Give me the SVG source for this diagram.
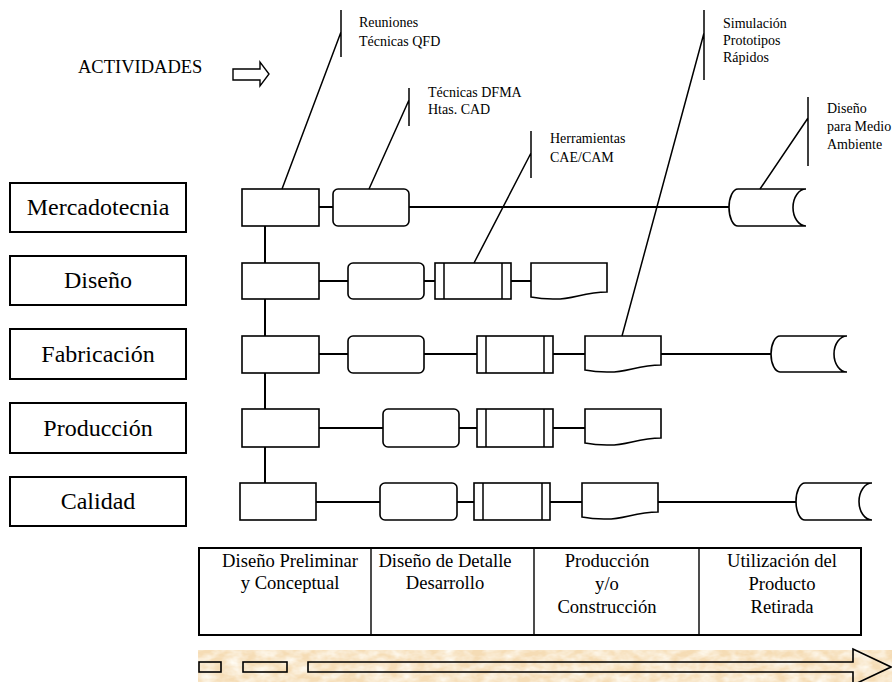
<svg xmlns="http://www.w3.org/2000/svg" width="892" height="682" viewBox="0 0 892 682" font-family="'Liberation Serif', 'Times New Roman', Times, 'DejaVu Serif', serif">
  <style>
    text { fill: #000; }
    .dept { font-size: 24px; text-anchor: middle; }
    .note { font-size: 14px; }
    .phase { font-size: 18.6px; text-anchor: middle; }
    .box { fill: #fff; stroke: #000; stroke-width: 1.6; }
    .dbox { fill: #fff; stroke: #000; stroke-width: 2; }
    .link { stroke: #000; stroke-width: 2; fill: none; }
    .call { stroke: #000; stroke-width: 1.5; fill: none; }
    .bar { stroke: #000; stroke-width: 1.5; }
  </style>
  <defs>
    <filter id="grain" x="0" y="0" width="100%" height="100%">
      <feTurbulence type="fractalNoise" baseFrequency="0.07 0.12" numOctaves="3" seed="4"/>
      <feColorMatrix type="matrix" values="0 0 0 0 1  0 0 0 0 0.97  0 0 0 0 0.9  1.6 0 0 0 -0.45"/>
    </filter>
  </defs>

  <rect width="892" height="682" fill="#fff"/>

  <!-- header -->
  <g id="actividades">
    <text x="78" y="73" font-size="18.5">ACTIVIDADES</text>
    <path d="M233 69 H260 V62 L269 74 L260 86 V80 H233 Z" fill="#fff" stroke="#000" stroke-width="1.4"/>
  </g>

  <!-- department labels -->
  <g id="dept-mercadotecnia"><rect class="dbox" x="10" y="183" width="176" height="49"/><text class="dept" x="98" y="215">Mercadotecnia</text></g>
  <g id="dept-diseno"><rect class="dbox" x="10" y="256" width="176" height="49"/><text class="dept" x="98" y="288">Diseño</text></g>
  <g id="dept-fabricacion"><rect class="dbox" x="10" y="329" width="176" height="50"/><text class="dept" x="98" y="362">Fabricación</text></g>
  <g id="dept-produccion"><rect class="dbox" x="10" y="403" width="176" height="50"/><text class="dept" x="98" y="436">Producción</text></g>
  <g id="dept-calidad"><rect class="dbox" x="10" y="477" width="176" height="49"/><text class="dept" x="98" y="509">Calidad</text></g>

  <!-- connectors -->
  <g id="connectors">
    <path class="link" d="M265 226 V263 M265 299 V336 M265 373 V409 M265 447 V483"/>
    <path class="link" d="M319 207 H333 M409 207 H729"/>
    <path class="link" d="M319 281 H348 M424 281 H435 M511 281 H531"/>
    <path class="link" d="M319 354 H348 M424 354 H477 M553 354 H585 M661 354 H771"/>
    <path class="link" d="M319 428 H383 M459 428 H477 M553 428 H585"/>
    <path class="link" d="M316 502 H380 M457 502 H474 M550 502 H582 M658 502 H796"/>
  </g>

  <!-- Mercadotecnia row -->
  <g id="m1"><rect class="box" x="242" y="189" width="77" height="37"/></g>
  <g id="m2"><rect class="box" x="333" y="189" width="76" height="37" rx="5"/></g>
  <g id="m3"><path class="box" d="M738 189 H806 A13 18.5 0 0 0 806 226 H738 A9 18.5 0 0 1 738 189 Z"/></g>

  <!-- Diseño row -->
  <g id="d1"><rect class="box" x="242" y="263" width="77" height="36"/></g>
  <g id="d2"><rect class="box" x="348" y="263" width="76" height="36" rx="5"/></g>
  <g id="d3"><rect class="box" x="435" y="263" width="76" height="36"/><path class="bar" d="M444 263 V299 M502 263 V299"/></g>
  <g id="d4"><path class="box" d="M531 263 H607 V292 C583 292 572 300 553 299 C543 299 536 298 531 297 Z"/></g>

  <!-- Fabricación row -->
  <g id="f1"><rect class="box" x="242" y="336" width="77" height="37"/></g>
  <g id="f2"><rect class="box" x="348" y="336" width="76" height="37" rx="5"/></g>
  <g id="f3"><rect class="box" x="477" y="336" width="76" height="37"/><path class="bar" d="M486 336 V373 M544 336 V373"/></g>
  <g id="f4"><path class="box" d="M585 336 H661 V365 C637 365 626 373 607 372 C597 372 590 371 585 370 Z"/></g>
  <g id="f5"><path class="box" d="M780 336 H847 A13 18 0 0 0 847 372 H780 A9 18 0 0 1 780 336 Z"/></g>

  <!-- Producción row -->
  <g id="p1"><rect class="box" x="242" y="409" width="77" height="38"/></g>
  <g id="p2"><rect class="box" x="383" y="409" width="76" height="38" rx="5"/></g>
  <g id="p3"><rect class="box" x="477" y="409" width="76" height="38"/><path class="bar" d="M486 409 V447 M544 409 V447"/></g>
  <g id="p4"><path class="box" d="M585 409 H661 V438 C637 438 626 446 607 445 C597 445 590 444 585 443 Z"/></g>

  <!-- Calidad row -->
  <g id="c1"><rect class="box" x="240" y="483" width="76" height="37"/></g>
  <g id="c2"><rect class="box" x="380" y="483" width="77" height="37" rx="5"/></g>
  <g id="c3"><rect class="box" x="474" y="483" width="76" height="37"/><path class="bar" d="M483 483 V520 M542 483 V520"/></g>
  <g id="c4"><path class="box" d="M582 483 H658 V512 C634 512 623 520 604 519 C594 519 587 518 582 517 Z"/></g>
  <g id="c5"><path class="box" d="M805 483 H872 A13 18.5 0 0 0 872 520 H805 A9 18.5 0 0 1 805 483 Z"/></g>

  <!-- activity callouts -->
  <g id="note-qfd">
    <path class="call" d="M341 10 V57 M341 32 L282 189"/>
    <text class="note" x="359" y="27">Reuniones</text>
    <text class="note" x="359" y="46">Técnicas QFD</text>
  </g>
  <g id="note-dfma">
    <path class="call" d="M409 88 V126 M409 100 L369 189"/>
    <text class="note" x="428" y="97">Técnicas DFMA</text>
    <text class="note" x="428" y="114">Htas. CAD</text>
  </g>
  <g id="note-cae">
    <path class="call" d="M531 131 V178 M531 153 L474 263"/>
    <text class="note" x="550" y="143">Herramientas</text>
    <text class="note" x="550" y="162">CAE/CAM</text>
  </g>
  <g id="note-sim">
    <path class="call" d="M704 10 V80 M704 33 L622 336"/>
    <text class="note" x="723" y="28">Simulación</text>
    <text class="note" x="723" y="45">Prototipos</text>
    <text class="note" x="723" y="62">Rápidos</text>
  </g>
  <g id="note-env">
    <path class="call" d="M808 97 V166 M808 118 L760 189"/>
    <text class="note" x="827" y="113">Diseño</text>
    <text class="note" x="827" y="131">para Medio</text>
    <text class="note" x="827" y="149">Ambiente</text>
  </g>

  <!-- life-cycle phases table -->
  <g id="phases">
    <rect x="199" y="548" width="662" height="87" fill="#fff" stroke="#000" stroke-width="2"/>
    <path d="M371 548 V635 M534 548 V635 M699 548 V635" stroke="#000" stroke-width="1.4"/>
    <text class="phase" x="290" y="567">Diseño Preliminar</text>
    <text class="phase" x="290" y="589">y Conceptual</text>
    <text class="phase" x="445" y="567">Diseño de Detalle</text>
    <text class="phase" x="445" y="589">Desarrollo</text>
    <text class="phase" x="607" y="567">Producción</text>
    <text class="phase" x="607" y="590">y/o</text>
    <text class="phase" x="607" y="613">Construcción</text>
    <text class="phase" x="782" y="567">Utilización del</text>
    <text class="phase" x="782" y="590">Producto</text>
    <text class="phase" x="782" y="613">Retirada</text>
  </g>

  <!-- time arrow band -->
  <g id="time-arrow">
    <rect x="198" y="650" width="694" height="32" fill="#f5dcb5"/>
    <rect x="198" y="650" width="694" height="32" filter="url(#grain)"/>
    <rect x="199" y="662" width="22" height="10" fill="none" stroke="#000" stroke-width="1.6"/>
    <rect x="243" y="662" width="44" height="10" fill="none" stroke="#000" stroke-width="1.6"/>
    <path d="M308 662 H853 V649 L891 667 L853 685 V672 H308 Z" fill="none" stroke="#000" stroke-width="1.6"/>
  </g>
</svg>
